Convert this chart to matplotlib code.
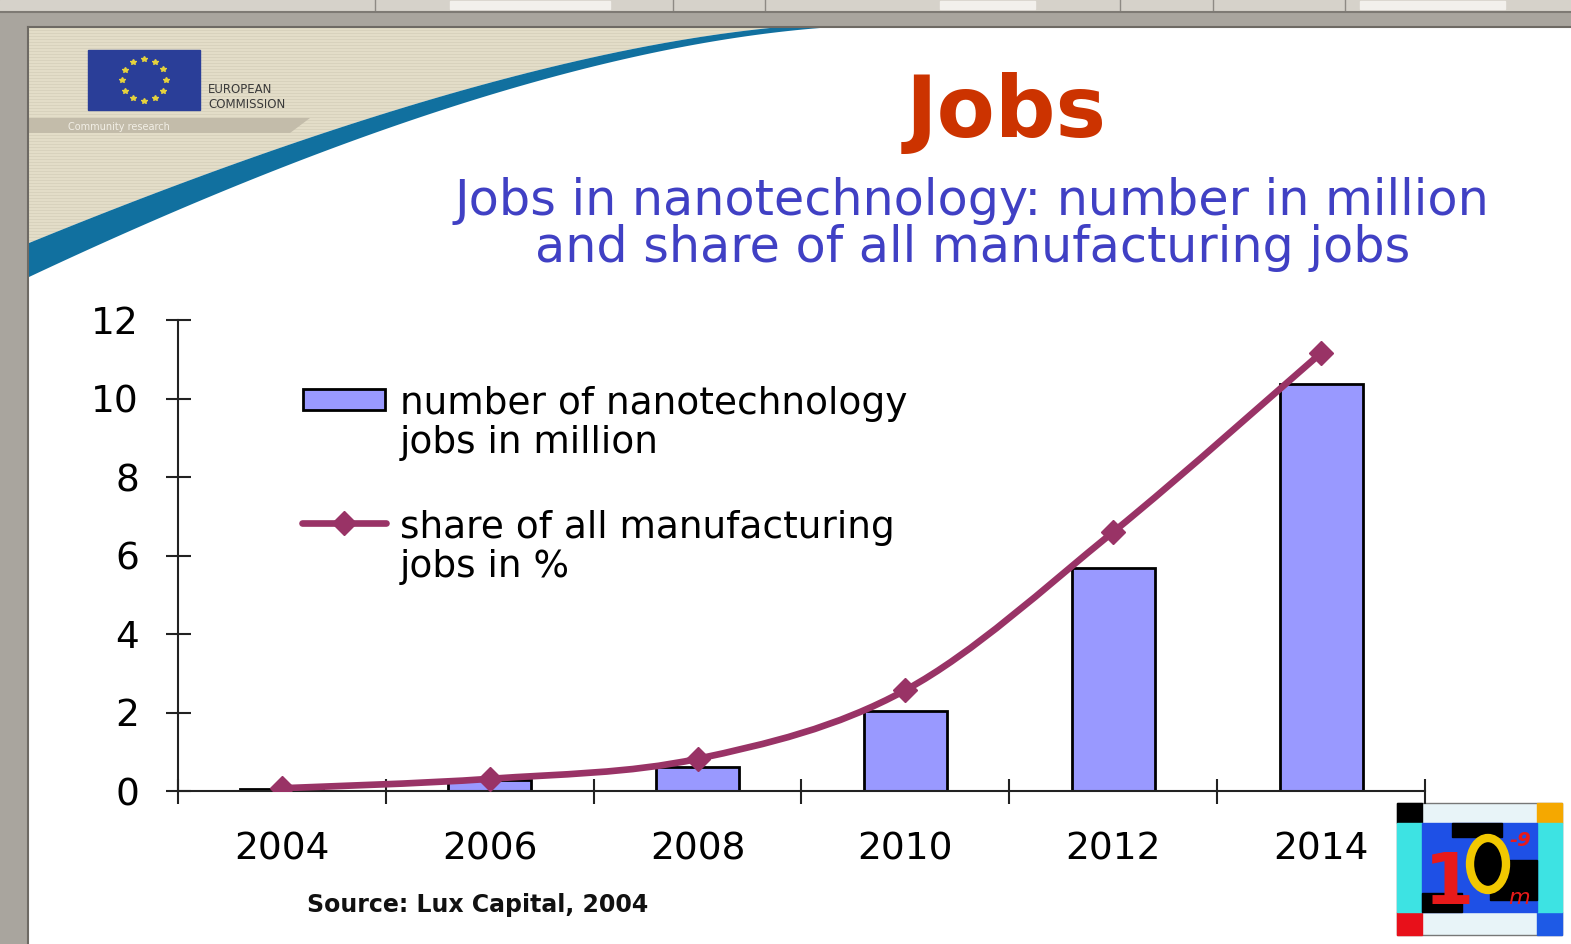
import numpy as np
import matplotlib
matplotlib.use("Agg")
import matplotlib.pyplot as plt
from matplotlib.patches import Rectangle, Polygon, PathPatch, Ellipse
from matplotlib.path import Path

# --- data ---
years = ["2004", "2006", "2008", "2010", "2012", "2014"]
jobs_million = [0.05, 0.28, 0.6, 2.04, 5.68, 10.37]
share_pct = [0.07, 0.31, 0.82, 2.57, 6.6, 11.16]
y_ticks = [0, 2, 4, 6, 8, 10, 12]

bar_label = "number of nanotechnology\njobs in million"
line_label = "share of all manufacturing\njobs in %"
title = "Jobs"
subtitle_1 = "Jobs in nanotechnology: number in million"
subtitle_2 = "and share of all manufacturing jobs"
source = "Source: Lux Capital, 2004"

W, H = 1571, 944
BAR_COLOR = "#9999FF"
LINE_COLOR = "#993366"


def qbez(p0, p1, p2, n=80):
    t = np.linspace(0, 1, n)[:, None]
    p0, p1, p2 = map(np.asarray, (p0, p1, p2))
    return (1 - t) ** 2 * p0 + 2 * (1 - t) * t * p1 + t ** 2 * p2


def smooth_path(xs, ys):
    # Excel style smoothed line: cubic bezier through the points
    pts = np.column_stack([xs, ys]).astype(float)
    verts = [pts[0]]
    codes = [Path.MOVETO]
    n = len(pts)
    for i in range(n - 1):
        p_prev = pts[max(i - 1, 0)]
        p0, p1 = pts[i], pts[i + 1]
        p_next = pts[min(i + 2, n - 1)]
        c1 = p0 + (p1 - p_prev) / 6
        c2 = p1 - (p_next - p0) / 6
        verts += [c1, c2, p1]
        codes += [Path.CURVE4] * 3
    return Path(verts, codes)


fig = plt.figure(figsize=(W / 100, H / 100), dpi=100)

# --- slide background, drawn in pixel coordinates ---
bg = fig.add_axes([0, 0, 1, 1])
bg.set_xlim(0, W)
bg.set_ylim(H, 0)
bg.axis("off")

bg.add_patch(Rectangle((0, 0), W, H, color="#A9A59E"))
bg.add_patch(Rectangle((0, 0), W, 11, color="#D6D2CA"))
for x0, x1 in [(450, 610), (940, 1035), (1360, 1505)]:
    bg.add_patch(Rectangle((x0, 1), x1 - x0, 8, color="#F2F0EC"))
for xs in [375, 673, 765, 1120, 1213, 1345]:
    bg.plot([xs, xs], [0, 10], color="#8E8A84", lw=1)
bg.plot([0, W], [12, 12], color="#7E7A74", lw=1.5)
bg.add_patch(Rectangle((29, 28), W - 29, H - 28, color="white"))
bg.plot([28, W], [27, 27], color="#6E6A64", lw=1.5)
bg.plot([28, 28], [27, H], color="#6E6A64", lw=1.5)

upper = qbez((29, 243), (484, 57), (770, 28))
lower = qbez((29, 277), (505, 53), (820, 28))
beige = Polygon(np.vstack([[(29, 28)], upper[::-1]]), closed=True,
                fc="#E3DDC8", ec="none")
bg.add_patch(beige)
for yy in np.arange(30, 250, 3):
    ln, = bg.plot([29, 800], [yy, yy], color="#D7D1BB", lw=0.6, zorder=1)
    ln.set_clip_path(beige)
bg.add_patch(Polygon(np.vstack([upper, lower[::-1]]), closed=True,
                     fc="#11709F", ec="none"))

# EU logo
bg.add_patch(Rectangle((88, 50), 112, 60, color="#2A3E98"))
ang = np.linspace(0, 2 * np.pi, 13)[:-1]
bg.plot(144 + 22 * np.cos(ang), 80 + 21 * np.sin(ang), ls="none",
        marker="*", ms=4, color="#E6D23C")
bg.text(208, 93, "EUROPEAN", fontsize=8.5, color="#3A3A3A")
bg.text(208, 108, "COMMISSION", fontsize=8.5, color="#3A3A3A")
bg.add_patch(Polygon([(29, 118), (310, 118), (290, 133), (29, 133)],
                     closed=True, fc="#C3BCAA", ec="none"))
bg.text(68, 130, "Community research", fontsize=7, color="#F2EFE6")

# titles
bg.text(1006, 137, title, fontsize=61, fontweight="bold", color="#CC3300",
        ha="center", va="baseline")
bg.text(972, 215, subtitle_1, fontsize=35.5, color="#4040C4",
        ha="center", va="baseline")
bg.text(973, 262, subtitle_2, fontsize=35.5, color="#4040C4",
        ha="center", va="baseline")
bg.text(307, 912, source, fontsize=17, fontweight="bold", color="#111111",
        va="baseline")

# 10^-9 m logo, bottom right
bg.add_patch(Rectangle((1397, 803), 165, 132, fc="#E8F4F8", ec="#777777", lw=1))
bg.add_patch(Rectangle((1397, 803), 25, 20, color="black"))
bg.add_patch(Rectangle((1537, 803), 25, 20, color="#F5A800"))
bg.add_patch(Rectangle((1397, 912), 25, 23, color="#E8101A"))
bg.add_patch(Rectangle((1537, 912), 25, 23, color="#1E5AE6"))
bg.add_patch(Rectangle((1397, 823), 25, 89, color="#3DE3E3"))
bg.add_patch(Rectangle((1537, 823), 25, 89, color="#3DE3E3"))
bg.add_patch(Rectangle((1422, 823), 115, 89, color="#1E50E6"))
bg.add_patch(Rectangle((1452, 823), 50, 14, color="black"))
bg.add_patch(Rectangle((1490, 860), 47, 40, color="black"))
bg.add_patch(Rectangle((1422, 893), 40, 19, color="black"))
bg.add_patch(Ellipse((1488, 864), 36, 52, fc="black", ec="#F2C800", lw=6))
bg.text(1424, 904, "1", fontsize=52, fontweight="bold", color="#E81A1A")
bg.text(1510, 846, "-9", fontsize=14, fontweight="bold", color="#E81A1A",
        style="italic")
bg.text(1508, 904, "m", fontsize=16, color="#E81A1A", style="italic")

# --- the chart itself ---
ax = fig.add_axes([178 / W, 1 - 791 / H, 1247 / W, 471 / H])
ax.set_facecolor("none")

x = np.arange(len(years))
ax.bar(x, jobs_million, width=0.4, color=BAR_COLOR, edgecolor="black",
       linewidth=2, zorder=2)
ax.add_patch(PathPatch(smooth_path(x, share_pct), fill=False,
                       edgecolor=LINE_COLOR, lw=4.8, capstyle="round", zorder=3))
ax.plot(x, share_pct, ls="none", marker="D", ms=12, color=LINE_COLOR, zorder=4)

ax.set_xlim(-0.5, len(years) - 0.5)
ax.set_ylim(0, 12)
ax.set_xticks(np.arange(-0.5, len(years), 1))
ax.set_xticklabels([])
ax.set_xticks(x, minor=True)
ax.set_xticklabels(years, minor=True)
ax.set_yticks(y_ticks)
ax.tick_params(axis="x", which="major", direction="inout", length=18,
               width=1.5, color="#222222")
ax.tick_params(axis="x", which="minor", length=0, pad=29, labelsize=27)
ax.tick_params(axis="y", direction="inout", length=18, width=1.5,
               color="#222222", pad=19, labelsize=27)
for side in ["top", "right"]:
    ax.spines[side].set_visible(False)
for side in ["left", "bottom"]:
    ax.spines[side].set_linewidth(1.5)
    ax.spines[side].set_color("#222222")

# legend, laid out by hand so the key sits on the first text line
bg.add_patch(Rectangle((303, 389), 82, 21, fc=BAR_COLOR, ec="black", lw=2))
bg.plot([302, 386], [523, 523], color=LINE_COLOR, lw=4.8,
        solid_capstyle="round")
bg.plot([344], [523], marker="D", ms=12, color=LINE_COLOR)
bg.text(400, 453, bar_label, fontsize=27, va="baseline", linespacing=1.12)
bg.text(400, 577, line_label, fontsize=27, va="baseline", linespacing=1.12)

fig.savefig("out.png", dpi=100)
